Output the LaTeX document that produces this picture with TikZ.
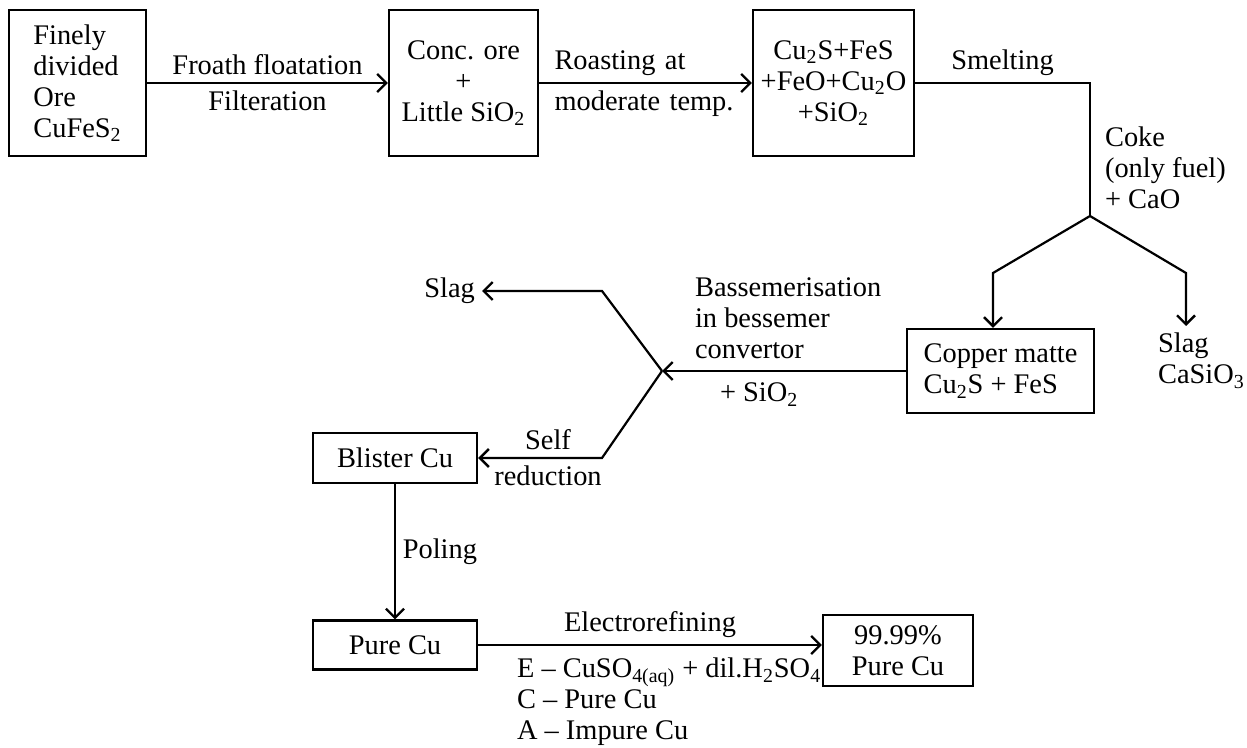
\documentclass[tikz,border=0pt]{standalone}
\usepackage{fontspec}
\setmainfont{Liberation Serif}
\usetikzlibrary{arrows.meta}

\tikzset{
  box/.style={draw, line width=1.1pt, inner sep=2pt},
  flow/.style={line width=1.1pt},
}

\begin{document}
\begin{tikzpicture}[x=0.5pt,y=-0.5pt, font=\fontsize{14.2}{15.5}\selectfont, >={Straight Barb[length=4.5pt,width=9pt,line width=1.2pt]}]
\useasboundingbox (0,0) rectangle (1247,748);
% Top row
\node[box, minimum width=68.5pt, minimum height=73pt, align=left] (ore) at (77.5,83) {Finely\\divided\\Ore\\CuFeS\textsubscript{2}};
\node[box, minimum width=74.5pt, minimum height=73pt, align=center] (conc) at (463.5,83) {Conc. ore\\+\\Little SiO\textsubscript{2}};
\node[box, minimum width=80.5pt, minimum height=73pt, align=center] (roast) at (833.5,83) {Cu\textsubscript{2}S+FeS\\+FeO+Cu\textsubscript{2}O\\+SiO\textsubscript{2}};
\draw[flow,->] (ore) -- node[above]{Froath floatation} node[below]{Filteration} (conc);
\draw[flow,->] (conc) -- node[above, text width=91pt, align=left]{Roasting at} node[below, text width=91pt, align=left]{moderate temp.} (roast);
% Smelting
\coordinate (fork) at (1090,216);
\draw[flow] (roast.east) -- node[above]{Smelting} (1090,83) -- (fork);
\node[anchor=west, align=left] (coke) at (1098,168) {Coke\\(only fuel)\\+ CaO};
\node[box, minimum width=93.5pt, minimum height=42pt, align=left] (matte) at (1000.5,371) {Copper matte\\Cu\textsubscript{2}S + FeS};
\node[anchor=north west, align=left] (slagb) at (1151,326) {Slag\\CaSiO\textsubscript{3}};
\coordinate (mx) at (993,0);
\coordinate (sx) at (1186,0);
\draw[flow,->] (fork) -- (993,273) -- (mx |- matte.north);
\draw[flow,->] (fork) -- (1186,273) -- (sx |- slagb.north);
% Bessemer convertor
\coordinate (join) at (662,371);
\draw[flow,->] (matte.west) -- (join);
\node[anchor=south west, align=left] (bess) at (688,366) {Bassemerisation\\in bessemer\\convertor};
\node[anchor=north west] (sio) at (713,376) {+ SiO\textsubscript{2}};
\node[anchor=east] (slaga) at (482,291) {Slag};
\draw[flow,->] (join) -- (602,291) -- (slaga.east);
\node[box, minimum width=82pt, minimum height=25pt] (blister) at (395,458) {Blister Cu};
\draw[flow,->] (join) -- (602,458) -- node[above, xshift=4pt]{Self} node[below, xshift=4pt]{reduction} (blister.east);
% Poling and refining
\node[box, minimum width=82pt, minimum height=24.5pt] (pure) at (395,645) {Pure Cu};
\draw[flow,->] (blister) -- node[right]{Poling} (pure);
\node[box, minimum width=75pt, minimum height=35.5pt, align=center] (final) at (898,650.5) {99.99\%\\Pure Cu};
\draw[flow,->] (pure.east) -- node[above]{Electrorefining} (pure.east -| final.west);
\node[anchor=north west, align=left] (elec) at (510,651) {E -- CuSO\textsubscript{4(aq)} + dil.H\textsubscript{2}SO\textsubscript{4}\\C -- Pure Cu\\A -- Impure Cu};
\end{tikzpicture}
\end{document}
